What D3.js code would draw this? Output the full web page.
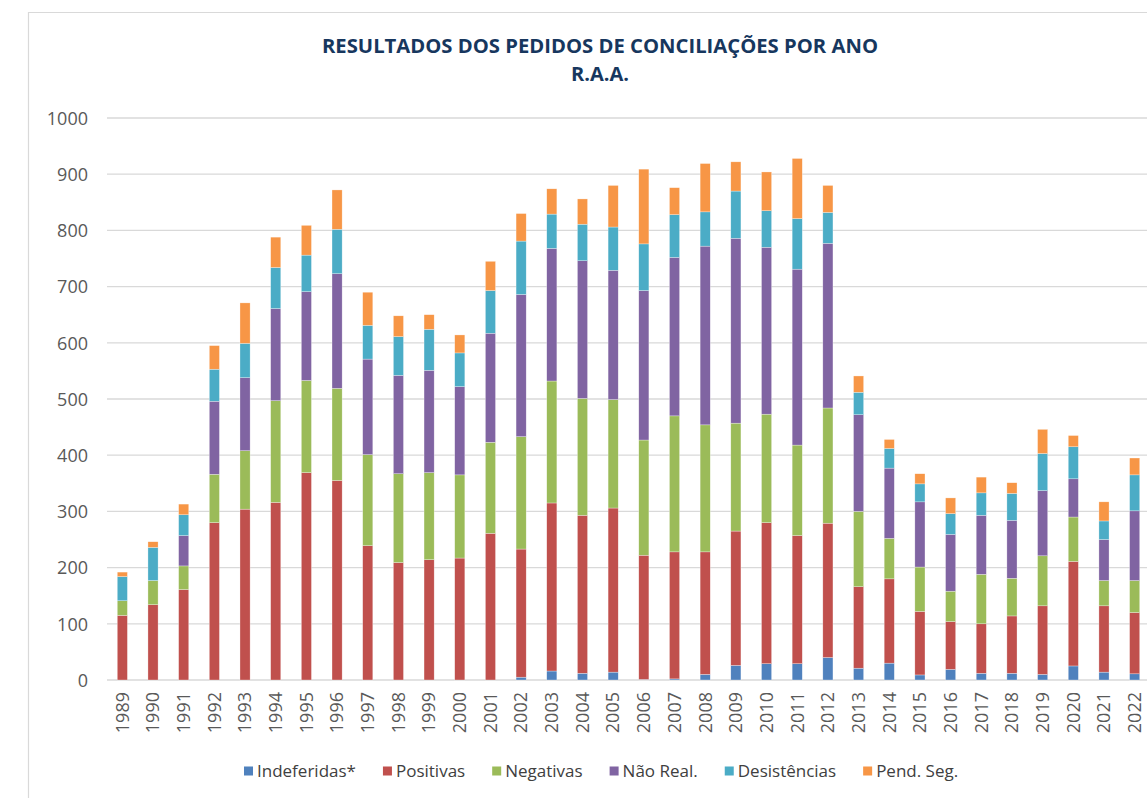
<!DOCTYPE html>
<html>
<head>
<meta charset="utf-8">
<script src="https://cdn.jsdelivr.net/npm/d3@7"></script>
<style>
  html, body { margin: 0; padding: 0; background: #fff; }
  svg { display: block; }
</style>
</head>
<body>
<svg id="chart" width="1147" height="798"></svg>
<script>
const years = ["1989","1990","1991","1992","1993","1994","1995","1996","1997","1998","1999","2000",
  "2001","2002","2003","2004","2005","2006","2007","2008","2009","2010","2011","2012",
  "2013","2014","2015","2016","2017","2018","2019","2020","2021","2022"];

const indeferidas = [0,0,0,0,0,0,0,0,0,0,0,0, 0,5,16,12,14,1,2,10,26,29,29,40, 21,30,9,19,12,12,10,25,14,11];
const positivas   = [115,134,161,280,304,316,369,355,239,209,214,217, 261,228,299,281,292,221,226,218,239,251,228,239, 145,150,113,85,88,102,122,186,118,109];
const negativas   = [26,43,42,86,104,181,164,164,162,158,155,148, 162,200,217,208,193,205,242,226,192,193,161,205, 134,72,79,54,88,67,89,79,45,57];
const naoReal     = [0,0,54,130,130,164,158,204,170,175,182,157, 194,253,236,245,230,266,282,318,329,297,313,293, 172,125,116,101,105,103,116,68,73,124];
const desistencias= [43,59,37,57,61,73,65,79,60,69,73,60, 76,95,61,65,77,83,76,61,84,65,90,55, 40,35,32,37,40,48,66,57,33,64];
const pendSeg     = [8,10,19,42,72,54,53,70,59,37,26,32, 52,49,45,45,74,133,48,86,52,69,107,48, 29,16,18,28,28,19,43,20,34,30];

const seriesNames = ["Indeferidas*","Positivas","Negativas","Não Real.","Desistências","Pend. Seg."];
const seriesValues = [indeferidas, positivas, negativas, naoReal, desistencias, pendSeg];
const seriesColors = ["#4F81BD","#C0504D","#9BBB59","#8064A2","#4BACC6","#F79646"];
const yTicks = [0,100,200,300,400,500,600,700,800,900,1000];

const titleLines = ["RESULTADOS DOS PEDIDOS DE CONCILIAÇÕES POR ANO", "R.A.A."];

const svg = d3.select("#chart");
const FONT = "'Open Sans', 'Liberation Sans', sans-serif";

// frame
svg.append("path")
  .attr("d", "M28.5,798 L28.5,12.5 L1147,12.5")
  .attr("fill", "none").attr("stroke", "#d9d9d9").attr("stroke-width", 1.2);

const x = d3.scaleBand().domain(years).range([107, 1150]).paddingInner(0.67).paddingOuter(0.335);
const y = d3.scaleLinear().domain([0, 1000]).range([680, 118]);

// gridlines
svg.append("g").selectAll("line").data(yTicks).join("line")
  .attr("x1", 107).attr("x2", 1147)
  .attr("y1", d => y(d)).attr("y2", d => y(d))
  .attr("stroke", "#d9d9d9").attr("stroke-width", 1.3);

// y axis labels
const yAxis = d3.axisLeft(y).tickValues(yTicks).tickSize(0).tickPadding(0).tickFormat(d3.format("d"));
const yg = svg.append("g").attr("transform", "translate(88,0)").call(yAxis);
yg.select(".domain").remove();
yg.selectAll("text").attr("font-family", FONT).attr("font-size", 18).attr("fill", "#595959").attr("dy", "0.35em");

// stacked data
const rows = years.map((yr, i) => {
  const r = { year: yr };
  seriesNames.forEach((s, k) => r[s] = seriesValues[k][i]);
  return r;
});
const stack = d3.stack().keys(seriesNames)(rows);

svg.append("g").selectAll("g").data(stack).join("g")
  .attr("fill", (d, i) => seriesColors[i])
  .selectAll("rect").data(d => d).join("rect")
  .attr("x", d => x(d.data.year))
  .attr("width", x.bandwidth())
  .attr("y", d => y(d[1]))
  .attr("height", d => Math.max(0, y(d[0]) - y(d[1])))
  .attr("stroke", "#ffffff").attr("stroke-width", 0.5).attr("stroke-opacity", 0.6);

// x axis labels
const xAxis = d3.axisBottom(x).tickSize(0).tickPadding(0);
const xg = svg.append("g").attr("transform", "translate(0,680)").call(xAxis);
xg.select(".domain").remove();
xg.selectAll("text")
  .attr("font-family", FONT).attr("font-size", 18).attr("fill", "#595959")
  .attr("transform", "rotate(-90)")
  .attr("text-anchor", "end")
  .attr("x", -12).attr("y", 0).attr("dy", "0.35em");

// title
const titleW = [556, 58];
svg.append("g").selectAll("text").data(titleLines).join("text")
  .attr("x", 600).attr("y", (d, i) => 53 + i * 28)
  .attr("text-anchor", "middle")
  .attr("font-family", FONT).attr("font-weight", "bold").attr("font-size", 19)
  .attr("fill", "#17375E")
  .attr("textLength", (d, i) => titleW[i])
  .attr("lengthAdjust", "spacingAndGlyphs")
  .text(d => d);

// legend
const lg = svg.append("g").attr("transform", "translate(0,771)");
let cx = 244;
seriesNames.forEach((name, i) => {
  const g = lg.append("g").attr("transform", `translate(${cx},0)`);
  g.append("rect").attr("x", 0).attr("y", -4.5).attr("width", 9).attr("height", 9).attr("fill", seriesColors[i]);
  const t = g.append("text").attr("x", 13).attr("y", 0).attr("dy", "0.35em")
    .attr("font-family", FONT).attr("font-size", 17).attr("fill", "#404040").text(name);
  const w = t.node().getComputedTextLength();
  cx += 13 + w + 27;
});
</script>
</body>
</html>
